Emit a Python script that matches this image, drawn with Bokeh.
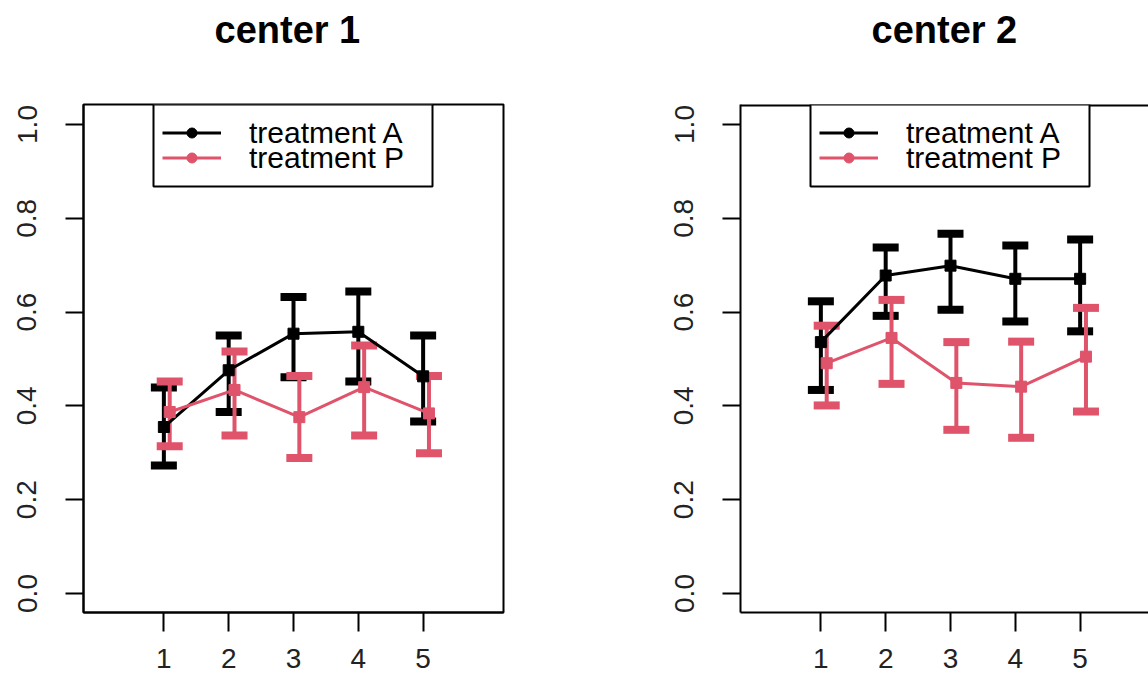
import math
from bokeh.plotting import figure
from bokeh.layouts import row
from bokeh.models import (Range1d, FixedTicker, Legend, LegendItem, Whisker, TeeHead,
                          ColumnDataSource, NumeralTickFormatter, Span, Title, BoxAnnotation)
from bokeh.embed import file_html
from bokeh.resources import INLINE

# ---------------- data ----------------
visits = [1, 2, 3, 4, 5]
titles = ["center 1", "center 2"]
series_labels = ["treatment A", "treatment P"]

c1_A_mean = [0.355, 0.476, 0.554, 0.558, 0.463]
c1_A_lower = [0.273, 0.387, 0.461, 0.452, 0.367]
c1_A_upper = [0.439, 0.550, 0.632, 0.644, 0.550]
c1_P_mean = [0.387, 0.434, 0.376, 0.440, 0.384]
c1_P_lower = [0.314, 0.337, 0.289, 0.337, 0.299]
c1_P_upper = [0.452, 0.516, 0.464, 0.529, 0.464]

c2_A_mean = [0.536, 0.678, 0.699, 0.671, 0.671]
c2_A_lower = [0.434, 0.592, 0.605, 0.580, 0.559]
c2_A_upper = [0.623, 0.738, 0.767, 0.742, 0.755]
c2_P_mean = [0.491, 0.545, 0.449, 0.441, 0.505]
c2_P_lower = [0.401, 0.447, 0.349, 0.332, 0.388]
c2_P_upper = [0.571, 0.626, 0.536, 0.537, 0.609]

y_ticks = [0.0, 0.2, 0.4, 0.6, 0.8, 1.0]

# ---------------- style / geometry ----------------
COLORS = ["#000000", "#DF536B"]
P_SHIFT = 0.09
FONT = "Liberation Sans"
H = 682
TOP = 104            # frame top (px)
BOTTOM = 70          # bottom border (px)
FRAME_H = H - TOP - BOTTOM
PX_PER_Y = 469.0     # pixels per y unit
ZERO_PX = 593.0      # pixel row of y = 0
Y1 = (ZERO_PX - TOP) / PX_PER_Y
Y0 = (ZERO_PX - (H - BOTTOM)) / PX_PER_Y
X0, X1 = -0.24, 6.24
FRAME_W = 420
PX_PER_X = FRAME_W / (X1 - X0)

# legend geometry (px, relative to the frame's top-left corner)
LEG_BOX_LEFT, LEG_BOX_RIGHT, LEG_BOX_H = 70, 349, 82
LEG_GLYPH_X = 79
LEG_ROW1, LEG_ROW_STEP = 28, 25
LEG_ITEM_H = 35.5


def make_panel(title, series, width, border_left, border_right, frame_w, full_outline):
    x_end = X0 + (X1 - X0) * frame_w / FRAME_W
    p = figure(width=width, height=H, output_backend="svg", toolbar_location=None,
               x_range=Range1d(X0, x_end), y_range=Range1d(Y0, Y1),
               min_border_left=border_left, min_border_right=border_right,
               min_border_top=TOP, min_border_bottom=BOTTOM,
               background_fill_color="white", border_fill_color="white")
    p.grid.visible = False

    spacer = Title(text=" ", text_font_size="2px", standoff=47)
    p.add_layout(spacer, "above")
    t = Title(text=title, align="left", offset=131, standoff=6,
              text_font=FONT, text_font_style="bold", text_font_size="38px",
              text_color="black")
    p.add_layout(t, "above")

    if full_outline:
        p.outline_line_color = "black"
        p.outline_line_width = 2
    else:
        p.outline_line_color = None
        p.add_layout(Span(location=Y1, dimension="width", line_color="black", line_width=4))

    for ax in (p.xaxis[0], p.yaxis[0]):
        ax.axis_line_color = "black"
        ax.axis_line_width = 2
        ax.major_tick_line_color = "black"
        ax.major_tick_line_width = 2
        ax.major_tick_in = 0
        ax.minor_tick_line_color = None
        ax.major_label_text_font = FONT
        ax.major_label_text_font_size = "28px"
        ax.major_label_text_color = "#222222"

    p.xaxis.ticker = FixedTicker(ticks=visits)
    p.xaxis.major_tick_out = 19
    p.xaxis.major_label_standoff = 17

    p.yaxis.ticker = FixedTicker(ticks=y_ticks)
    p.yaxis.formatter = NumeralTickFormatter(format="0.0")
    p.yaxis.major_label_orientation = "vertical"
    p.yaxis.major_tick_out = 18
    p.yaxis.major_label_standoff = 29

    legend_entries = []
    for i, (mean, lower, upper) in enumerate(series):
        col = COLORS[i]
        xs = [v + i * P_SHIFT for v in visits]
        src = ColumnDataSource(dict(x=xs, y=mean, lower=lower, upper=upper))
        ln = p.line("x", "y", source=src, line_color=col, line_width=3)
        p.scatter("x", "y", source=src, marker="square", size=11, color=col)
        wh = Whisker(source=src, base="x", lower="lower", upper="upper",
                     line_color=col, line_width=4,
                     upper_head=TeeHead(size=26, line_color=col, line_width=8),
                     lower_head=TeeHead(size=26, line_color=col, line_width=8))
        p.add_layout(wh)
        dot = p.scatter("x", "y", source=src, marker="circle", size=9, color=col,
                        visible=False)
        legend_entries.append(LegendItem(label=series_labels[i], renderers=[ln, dot]))

    # legend frame
    box = BoxAnnotation(left=X0 + LEG_BOX_LEFT / PX_PER_X,
                        right=X0 + LEG_BOX_RIGHT / PX_PER_X,
                        top=Y1, bottom=Y1 - LEG_BOX_H / PX_PER_Y,
                        fill_color="white", fill_alpha=1.0,
                        line_color="black", line_width=2, line_alpha=1.0)
    p.add_layout(box)

    for i, item in enumerate(legend_entries):
        row_center = LEG_ROW1 + i * LEG_ROW_STEP
        leg = Legend(items=[item],
                     location=(LEG_GLYPH_X, FRAME_H - row_center - LEG_ITEM_H / 2),
                     orientation="vertical",
                     label_text_font=FONT, label_text_font_size="30px",
                     label_text_color="black",
                     glyph_width=59, glyph_height=25, label_height=25,
                     label_standoff=28, padding=0, spacing=0, margin=0,
                     border_line_color=None, background_fill_alpha=0.0)
        p.add_layout(leg, "center")
    return p


p1 = make_panel(titles[0],
                [(c1_A_mean, c1_A_lower, c1_A_upper), (c1_P_mean, c1_P_lower, c1_P_upper)],
                width=580, border_left=83, border_right=77, frame_w=420, full_outline=True)
p2 = make_panel(titles[1],
                [(c2_A_mean, c2_A_lower, c2_A_upper), (c2_P_mean, c2_P_lower, c2_P_upper)],
                width=568, border_left=160, border_right=0, frame_w=408, full_outline=False)

layout = row(p1, p2)
open("out.html", "w").write(file_html(layout, INLINE))
